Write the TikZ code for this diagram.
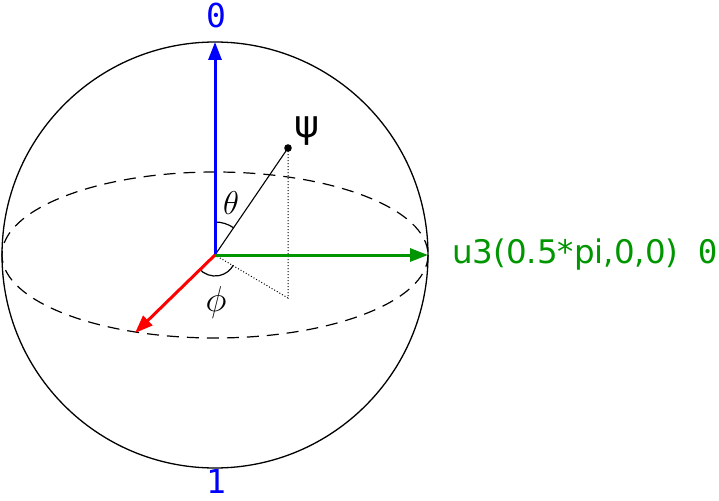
\documentclass[tikz,border=0pt]{standalone}
\usepackage{fix-cm}
\usepackage{fontspec}
\setmainfont{DejaVu Sans}
\newfontfamily\monofnt{DejaVu Sans Mono}
\usetikzlibrary{arrows.meta}
\definecolor{axgreen}{RGB}{0,150,0}
\tikzset{
  axis/.style={line width=3pt,-{Triangle[length=18pt,width=13pt]}},
  guide/.style={line width=1pt,dotted},
  lbl/.style={inner sep=0pt}
}
\begin{document}
\begin{tikzpicture}[x=1pt,y=-1pt]
\useasboundingbox (0,0) rectangle (719,500);
\coordinate (O) at (215,255);
\coordinate (P) at (288,148);
\coordinate (F) at (288,298);
\coordinate (T0) at (215,42);
\coordinate (TG) at (428,255);
\coordinate (TR) at (135,333);
% sphere
\draw[line width=1.3pt] (O) circle [radius=213];
\draw[line width=1.2pt,dash pattern=on 12pt off 8pt] (O) ellipse [x radius=213,y radius=83];
% state vector
\draw[line width=1.1pt] (O) -- (P);
\fill (P) circle [radius=3.8];
\draw[guide] (P) -- (F) -- (O);
% angle arcs
\draw[line width=1.2pt] (O) ++(-90:33) arc[start angle=-90,end angle=-55.7,radius=33];
\draw[line width=1.2pt] (O) ++(-221:21) arc[start angle=-221,end angle=-331,radius=21];
% axes
\draw[axis,blue] (O) -- (T0);
\draw[axis,axgreen] (O) -- (TG);
\draw[axis,red] (O) -- (TR);
% labels
\node[lbl,text=blue,font=\monofnt\fontsize{33}{33}\selectfont] (l0) at (216,15) {0};
\node[lbl,text=blue,font=\monofnt\fontsize{33}{33}\selectfont] (l1) at (216,481) {1};
\node[lbl,font=\fontsize{38}{38}\selectfont] (lpsi) at (307,131) {ψ};
\node[lbl,font=\fontsize{33}{33}\selectfont] (lth) at (231,203) {$\theta$};
\node[lbl,font=\fontsize{36}{36}\selectfont] (lph) at (216,302) {$\phi$};
\node[lbl,anchor=west,text=axgreen,font=\fontsize{32.5}{33}\selectfont] (lg) at (452,255) {u3(0.5*pi,0,0)\hspace{0.6em}{\monofnt 0}};
\end{tikzpicture}
\end{document}
